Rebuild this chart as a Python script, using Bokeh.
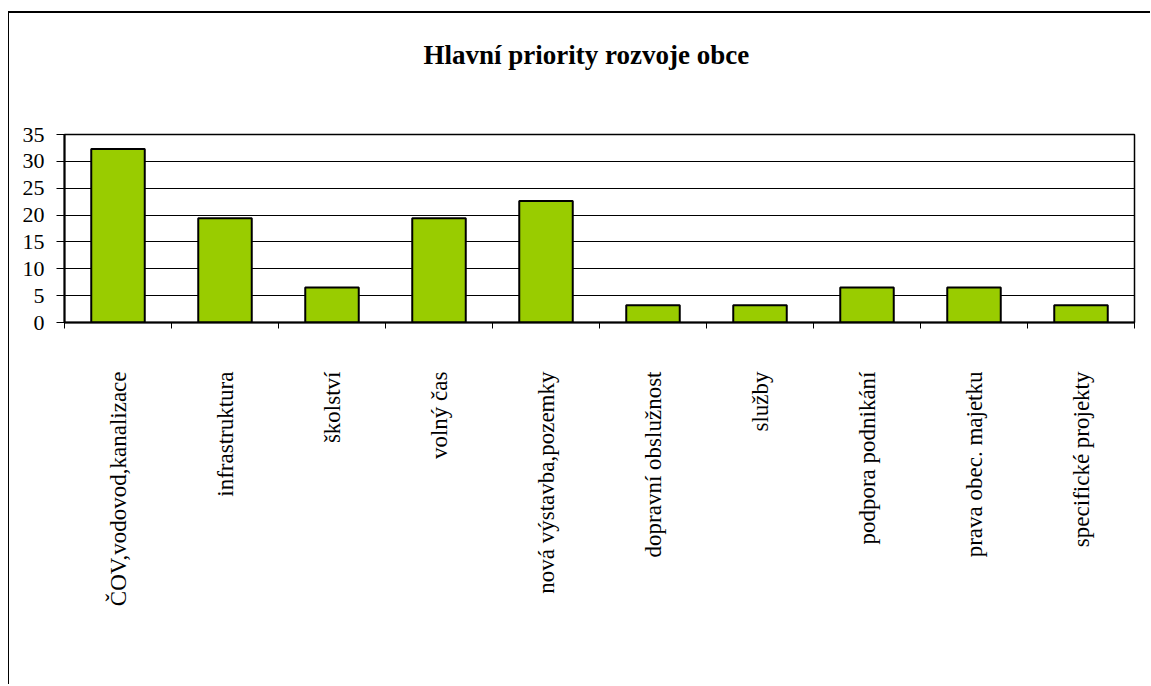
import math
from bokeh.plotting import figure
from bokeh.models import Range1d, LinearAxis, FixedTicker, Title
from bokeh.embed import file_html
from bokeh.resources import INLINE

title_text = "Hlavní priority rozvoje obce"
categories = ["ČOV,vodovod,kanalizace", "infrastruktura", "školství", "volný čas",
              "nová výstavba,pozemky", "dopravní obslužnost", "služby",
              "podpora podnikání", "prava obec. majetku", "specifické projekty"]
values = [32.3, 19.4, 6.5, 19.4, 22.6, 3.2, 3.2, 6.5, 6.5, 3.2]
y_ticks = [0, 5, 10, 15, 20, 25, 30, 35]

FONT = "Liberation Serif"

n = len(categories)
centers = [i + 0.5 for i in range(n)]
edges = list(range(n + 1))

p = figure(width=1142, height=673,
           x_range=Range1d(0, n),
           y_range=Range1d(0, 35),
           x_axis_location=None,
           title=None,
           output_backend="svg", toolbar_location=None,
           min_border_left=55, min_border_right=17, min_border_top=121,
           min_border_bottom=364)
p.styles = {"border-top": "2px solid black", "border-left": "1px solid black",
            "margin-top": "11px", "margin-left": "8px"}

# invisible spacer axis between the title and the plot area
spacer_axis = LinearAxis(ticker=FixedTicker(ticks=[edges[n // 2]]),
                         axis_line_color=None, major_tick_line_color=None,
                         minor_tick_line_color=None,
                         major_tick_out=43, major_tick_in=0,
                         major_label_overrides={edges[n // 2]: ""},
                         major_label_text_font_size="1px", major_label_text_alpha=0,
                         major_label_standoff=0)
p.add_layout(spacer_axis, "above")

title = Title(text=title_text, text_font=FONT, text_font_size="27px",
              text_font_style="bold", text_color="black",
              align="left", offset=359, standoff=44)
p.add_layout(title, "above")

edge_axis = LinearAxis(ticker=FixedTicker(ticks=edges),
                       major_tick_out=6, major_tick_in=0,
                       minor_tick_line_color=None,
                       major_label_text_font_size="1px", major_label_text_alpha=0,
                       major_label_standoff=0,
                       axis_line_color="black", axis_line_width=2,
                       major_tick_line_color="black", major_tick_line_width=1)
cat_axis = LinearAxis(ticker=FixedTicker(ticks=centers),
                      major_label_overrides={c: lab for c, lab in zip(centers, categories)},
                      axis_line_color=None, major_tick_line_color=None,
                      minor_tick_line_color=None,
                      major_tick_out=0, major_tick_in=0,
                      major_label_orientation=math.pi / 2,
                      major_label_standoff=43,
                      major_label_text_font=FONT,
                      major_label_text_font_size="23px",
                      major_label_text_color="black")
p.add_layout(edge_axis, "below")
p.add_layout(cat_axis, "below")

p.yaxis.ticker = FixedTicker(ticks=y_ticks)
p.yaxis.major_tick_out = 8
p.yaxis.major_tick_in = 0
p.yaxis.minor_tick_line_color = None
p.yaxis.axis_line_color = "black"
p.yaxis.axis_line_width = 2
p.yaxis.major_tick_line_color = "black"
p.yaxis.major_label_standoff = 12
p.yaxis.major_label_text_font = FONT
p.yaxis.major_label_text_font_size = "22px"
p.yaxis.major_label_text_color = "black"

p.xgrid.grid_line_color = None
p.ygrid.ticker = FixedTicker(ticks=y_ticks)
p.ygrid.grid_line_color = "black"
p.ygrid.grid_line_width = 1

p.outline_line_color = "black"
p.outline_line_width = 1.5

p.vbar(x=centers, top=values, width=0.5,
       fill_color="#99CC00", line_color="black", line_width=2)

open("out.html", "w").write(file_html(p, INLINE))
